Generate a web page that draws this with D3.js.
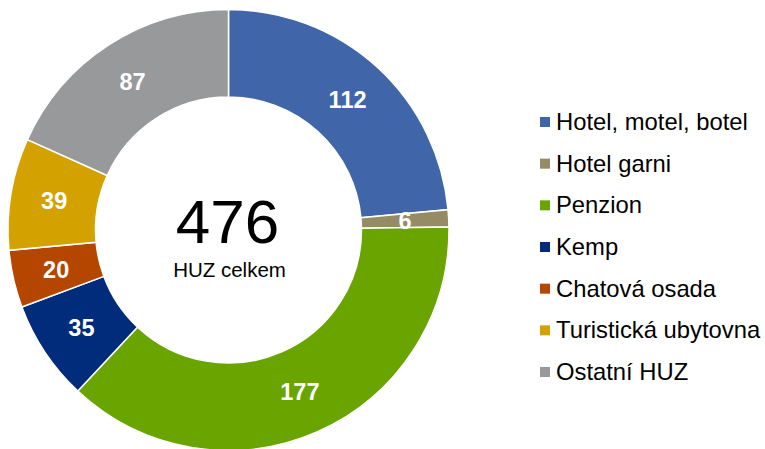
<!DOCTYPE html>
<html>
<head>
<meta charset="utf-8">
<script src="https://cdn.jsdelivr.net/npm/d3@7"></script>
<style>
  body { margin: 0; background: #fff; }
  svg { display: block; font-family: "Liberation Sans", Arial, sans-serif; }
</style>
</head>
<body>
<div id="chart"></div>
<script>
const categories = ["Hotel, motel, botel", "Hotel garni", "Penzion", "Kemp", "Chatová osada", "Turistická ubytovna", "Ostatní HUZ"];
const values = [112, 6, 177, 35, 20, 39, 87];
const colors = ["#4066A9", "#958B64", "#6AA400", "#002C7B", "#B44600", "#D3A200", "#98999B"];
const totalLabel = "HUZ celkem";

window.onload = () => {
  buildDonut();
};

function buildDonut() {
  const width = 765, height = 449;
  const cx = 228.5, cy = 230;
  const outerR = 220.5, innerR = 133;

  const svg = d3.select("#chart")
    .append("svg")
    .attr("width", width)
    .attr("height", height);

  const data = categories.map((c, i) => ({ name: c, value: values[i], color: colors[i] }));

  const pie = d3.pie()
    .value(d => d.value)
    .sort(null);

  const arc = d3.arc()
    .innerRadius(innerR)
    .outerRadius(outerR);

  const g = svg.append("g")
    .attr("transform", `translate(${cx},${cy})`);

  const arcs = pie(data);

  g.selectAll("path")
    .data(arcs)
    .join("path")
    .attr("d", arc)
    .attr("fill", d => d.data.color)
    .attr("stroke", "#fff")
    .attr("stroke-width", 1.5);

  g.selectAll("text.val")
    .data(arcs)
    .join("text")
    .attr("class", "val")
    .attr("transform", d => `translate(${arc.centroid(d)})`)
    .attr("text-anchor", "middle")
    .attr("dy", "0.36em")
    .attr("fill", "#fff")
    .attr("font-weight", "bold")
    .attr("font-size", 23.5)
    .text(d => d.data.value);

  const total = d3.sum(values);
  g.append("text")
    .attr("x", -1)
    .attr("y", 13)
    .attr("text-anchor", "middle")
    .attr("font-size", 62)
    .attr("fill", "#000")
    .text(total);

  g.append("text")
    .attr("x", 1)
    .attr("y", 47)
    .attr("text-anchor", "middle")
    .attr("font-size", 20.5)
    .attr("fill", "#000")
    .text(totalLabel);

  const y = d3.scalePoint()
    .domain(categories)
    .range([130, 380]);

  const legend = svg.append("g");

  legend.selectAll("rect")
    .data(data)
    .join("rect")
    .attr("x", 540)
    .attr("y", d => y(d.name) - 13)
    .attr("width", 10)
    .attr("height", 10)
    .attr("fill", d => d.color);

  legend.selectAll("text")
    .data(data)
    .join("text")
    .attr("x", 556)
    .attr("y", d => y(d.name))
    .attr("font-size", 23.8)
    .attr("fill", "#000")
    .text(d => d.name);
}
</script>
</body>
</html>
